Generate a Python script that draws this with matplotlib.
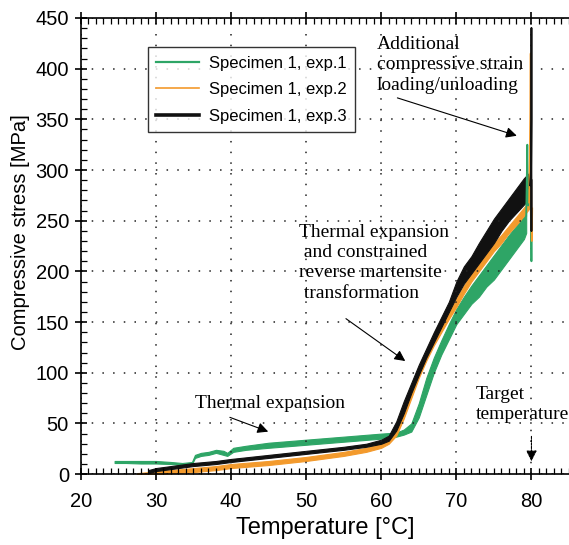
import matplotlib.pyplot as plt
from matplotlib.ticker import MultipleLocator

# exp.1 (green) - band: temperature, lower / upper edge
temp_1 = [24.5, 26, 28, 30, 32, 33.5, 34.8, 35.2, 36, 37, 38, 39, 39.5, 40.3, 42, 45, 50, 55, 60,
          62, 63, 64, 65, 66, 67, 68, 69, 70, 71, 72, 73, 74, 75, 76, 77, 78, 79, 79.3]
low_1 = [11, 11, 10.5, 10.5, 10, 9, 10, 16, 18, 19, 21, 19, 18, 22, 24, 26, 29, 32, 35,
         37, 39, 42, 56, 78, 100, 118, 133, 148, 158, 168, 175, 185, 192, 202, 212, 222, 232, 238]
high_1 = [13, 13, 13, 13, 12, 11, 12, 19, 21, 22, 24, 23, 21, 26, 28, 31, 34, 37, 40,
          41, 44, 50, 70, 95, 115, 132, 148, 163, 175, 186, 196, 206, 216, 226, 236, 245, 254, 258]
spike_t_1 = [79.3, 79.45, 79.55, 79.7, 79.9, 80.0, 80.05]
spike_s_1 = [255, 325, 265, 280, 270, 210, 250]

# exp.2 (orange)
temp_2 = [27.5, 29, 30, 32, 35, 38, 40, 45, 50, 55, 58, 60, 61, 62, 63, 64, 65, 66, 67, 68,
          69, 70, 71, 72, 73, 74, 75, 76, 77, 78, 79, 79.7]
low_2 = [0, 0, 0, 1, 2, 4, 6, 9, 13, 18, 22, 26, 30, 38, 55, 75, 95, 112, 127, 140,
         153, 165, 178, 190, 200, 210, 220, 228, 238, 246, 255, 262]
high_2 = [1, 2, 3, 4, 6, 8, 10, 13, 17, 22, 26, 30, 34, 46, 66, 86, 104, 120, 134, 148,
          160, 173, 186, 198, 208, 218, 228, 236, 245, 254, 263, 270]
spike_t_2 = [79.7, 79.85, 79.9, 79.95, 80.0, 80.05, 80.1]
spike_s_2 = [268, 360, 415, 300, 250, 230, 262]

# exp.3 (black)
temp_3 = [29, 30, 32, 35, 38, 40, 45, 50, 55, 58, 60, 61, 62, 63, 64, 65, 66, 67, 68, 69,
          70, 71, 72, 73, 74, 75, 76, 77, 78, 79, 79.8]
low_3 = [1, 3, 5, 8, 10, 12, 16, 20, 24, 27, 30, 33, 43, 60, 80, 98, 115, 130, 145, 160,
         175, 188, 198, 208, 218, 228, 240, 250, 258, 266, 272]
high_3 = [4, 6, 8, 11, 13, 15, 19, 23, 27, 30, 34, 38, 52, 72, 90, 108, 124, 140, 155, 170,
          190, 205, 215, 228, 240, 252, 262, 272, 282, 292, 298]
spike_t_3 = [79.8, 79.95, 80.0, 80.0, 80.0, 80.0]
spike_s_3 = [285, 300, 350, 440, 240, 290]

labels = ['Specimen 1, exp.1', 'Specimen 1, exp.2', 'Specimen 1, exp.3']
colors = ['#2ea566', '#f39a2c', '#111111']

plt.rcParams['font.family'] = ['Liberation Sans', 'DejaVu Sans']

fig = plt.figure(figsize=(5.69, 5.45), dpi=100)
ax = fig.add_axes([0.142, 0.130, 0.858, 0.837])

series = [(temp_1, low_1, high_1, spike_t_1, spike_s_1),
          (temp_2, low_2, high_2, spike_t_2, spike_s_2),
          (temp_3, low_3, high_3, spike_t_3, spike_s_3)]
widths = [1.6, 1.2, 2.6]
for (t, lo, hi, st, ss), c, lab, w in zip(series, colors, labels, widths):
    ax.fill_between(t, lo, hi, color=c, lw=0.8, edgecolor=c)
    ax.plot(st, ss, color=c, lw=1.3)
    ax.plot([], [], color=c, lw=w, label=lab)

ax.set_xlim(20, 85)
ax.set_ylim(0, 450)
ax.xaxis.set_major_locator(MultipleLocator(10))
ax.xaxis.set_minor_locator(MultipleLocator(1))
ax.yaxis.set_major_locator(MultipleLocator(50))
ax.yaxis.set_minor_locator(MultipleLocator(10))
ax.tick_params(which='major', direction='inout', length=9, width=1.2, labelsize=14.5,
               top=True, colors='black')
ax.tick_params(which='minor', direction='in', length=4, width=0.9, top=True)
ax.tick_params(axis='x', which='major', pad=8)
ax.tick_params(axis='y', which='major', pad=4)
for s in ['left', 'bottom', 'top']:
    ax.spines[s].set_linewidth(1.2)
ax.spines['right'].set_visible(False)
ax.grid(True, which='major', color='#222222', linestyle=(0, (1, 6)), lw=1.1)

ax.set_xlabel('Temperature [°C]', fontsize=17)
ax.xaxis.set_label_coords(0.5, -0.094)
ax.set_ylabel('Compressive stress [MPa]', fontsize=14.5)
ax.yaxis.set_label_coords(-0.105, 0.53)

leg = ax.legend(loc='upper left', bbox_to_anchor=(0.137, 0.936), borderaxespad=0,
                fontsize=12, frameon=True, fancybox=False, edgecolor='black',
                handlelength=2.6, handletextpad=0.6, labelspacing=0.7,
                borderpad=0.5)
leg.get_frame().set_linewidth(1.0)

serif = ['Liberation Serif', 'DejaVu Serif']
arrow = dict(arrowstyle='-|>', color='black', lw=0.8, mutation_scale=16)

ax.text(59.4, 432, 'Additional\ncompressive strain\nloading/unloading', family=serif,
        fontsize=14, va='top', ha='left', linespacing=1.25)
ax.annotate('', xy=(78.4, 333), xytext=(61.8, 372), arrowprops=arrow)

ax.text(49.1, 247, 'Thermal expansion\n and constrained\nreverse martensite\n transformation',
        family=serif, fontsize=14, va='top', ha='left', linespacing=1.25)
ax.annotate('', xy=(63.5, 110), xytext=(55.0, 155), arrowprops=arrow)

ax.text(45.2, 70, 'Thermal expansion', family=serif, fontsize=14, ha='center', va='center')
ax.annotate('', xy=(45.3, 41), xytext=(39.5, 57), arrowprops=arrow)

ax.text(72.6, 87, 'Target\ntemperature', family=serif, fontsize=14, ha='left', va='top',
        linespacing=1.25, clip_on=False)
ax.annotate('', xy=(80, 10), xytext=(80, 40),
            arrowprops=dict(arrowstyle='-|>', color='black', lw=0.8, ls=(0, (2, 1)),
                            mutation_scale=16))

fig.savefig('out.png', dpi=100)
